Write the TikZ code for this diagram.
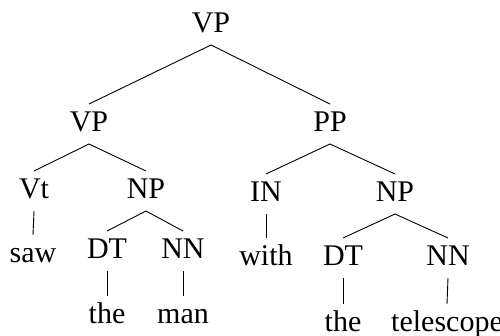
\documentclass[tikz,border=0pt]{standalone}
\usepackage{fontspec}
\setmainfont{Liberation Serif}
\begin{document}
\begin{tikzpicture}[x=1pt,y=-1pt,
  lab/.style={anchor=base,inner sep=0pt,outer sep=0pt,text height=27pt,text depth=13pt,font=\fontsize{30}{35}\selectfont},
  edge/.style={line width=0.9pt,black}]
\useasboundingbox (0,0) rectangle (500,335);
\node[lab] (vp0) at (211,32) {VP};
\node[lab] (vp1) at (89,131) {VP};
\node[lab] (pp) at (330,131) {PP};
\node[lab] (vt) at (34,198) {Vt};
\node[lab] (npl) at (146,198) {NP};
\node[lab] (in) at (266,201) {IN};
\node[lab] (npr) at (395,201) {NP};
\node[lab] (saw) at (33,262) {saw};
\node[lab] (dtl) at (107,258) {DT};
\node[lab] (nnl) at (183,258) {NN};
\node[lab] (with) at (266,265) {with};
\node[lab] (dtr) at (343,265) {DT};
\node[lab] (nnr) at (448,265) {NN};
\node[lab] (thel) at (107,323) {the};
\node[lab] (man) at (183,323) {man};
\node[lab] (ther) at (343,331) {the};
\node[lab] (tel) at (447,331) {telescope};
\draw[edge] (vp1.north) -- (vp0.south) -- (pp.north);
\draw[edge] (vt.north) -- (vp1.south) -- (npl.north);
\draw[edge] (in.north) -- (pp.south) -- (npr.north);
\draw[edge] (dtl.north) -- (npl.south) -- (nnl.north);
\draw[edge] (dtr.north) -- (npr.south) -- (nnr.north);
\draw[edge] (vt.south) -- (saw.north);
\draw[edge] (in.south) -- (with.north);
\draw[edge] (dtl.south) -- (thel.north);
\draw[edge] (nnl.south) -- (man.north);
\draw[edge] (dtr.south) -- (ther.north);
\draw[edge] (nnr.south) -- (tel.north);
\end{tikzpicture}
\end{document}
